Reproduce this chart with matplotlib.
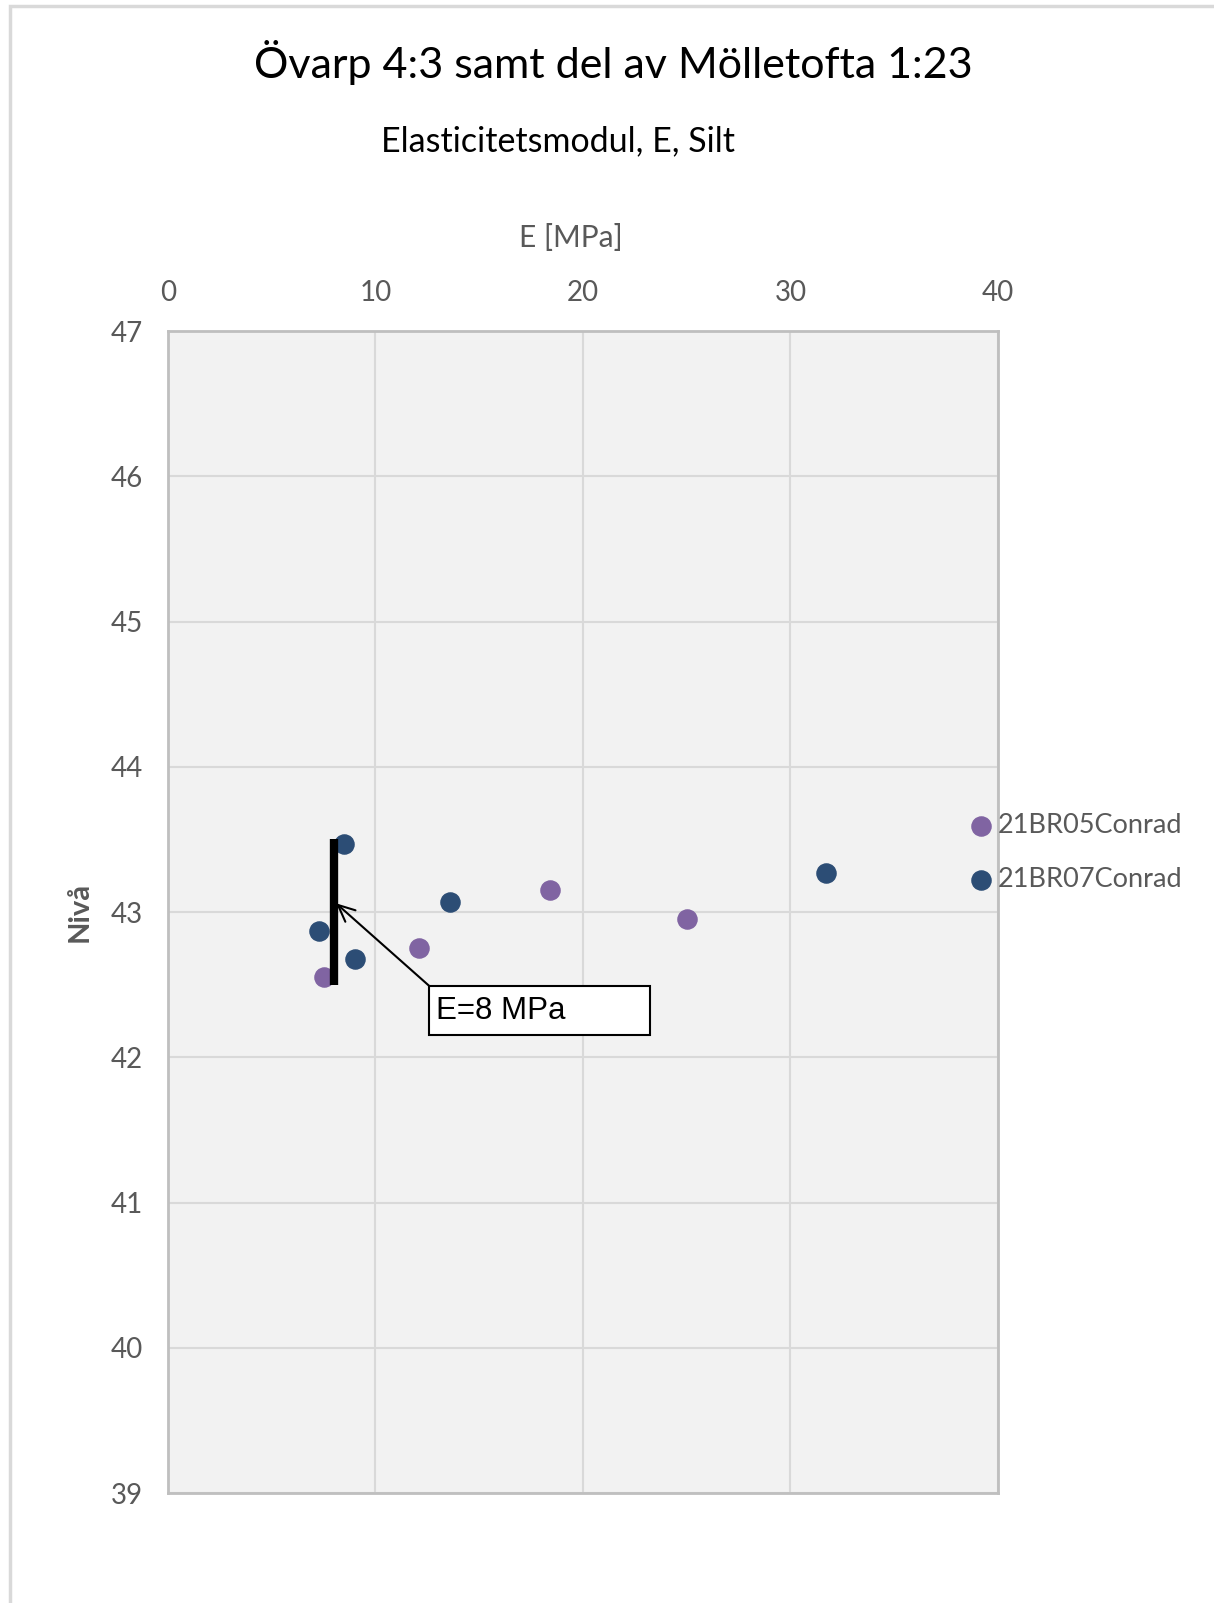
import matplotlib
matplotlib.use("Agg")
import matplotlib.pyplot as plt
from matplotlib.patches import Rectangle

# series: E [MPa] and level
br05_e = [7.5, 12.1, 18.4, 25.0]
br05_niva = [42.55, 42.75, 43.15, 42.95]
br07_e = [8.5, 7.3, 9.0, 13.6, 31.7]
br07_niva = [43.47, 42.87, 42.68, 43.07, 43.27]
series_names = ["21BR05Conrad", "21BR07Conrad"]

# design value line E=8 MPa between levels
e_design = 8
design_top = 43.5
design_bottom = 42.5

x_ticks = [0, 10, 20, 30, 40]
y_ticks = [39, 40, 41, 42, 43, 44, 45, 46, 47]

grey = "#595959"
plt.rcParams["font.family"] = ["Lato", "DejaVu Sans"]

fig = plt.figure(figsize=(12.14, 16.03), dpi=100)
ax = fig.add_axes([0.1384, 0.0686, 0.6836, 0.7249])
ax.set_facecolor("#f2f2f2")

ax.scatter(br05_e, br05_niva, s=190, color="#8064a2", zorder=3, label=series_names[0])
ax.scatter(br07_e, br07_niva, s=190, color="#2c4d75", zorder=3, label=series_names[1])

ax.plot([e_design, e_design], [design_bottom, design_top], color="black", lw=6,
        solid_capstyle="butt", zorder=4)

# label box with arrow to the design line
box_x, box_y, box_w, box_h = 12.6, 42.15, 10.65, 0.34
ax.add_patch(Rectangle((box_x, box_y), box_w, box_h, facecolor="white",
                       edgecolor="black", lw=1.5, zorder=5))
ax.text(box_x + 0.3, box_y + box_h / 2, "E=%d MPa" % e_design, family="Liberation Sans",
        fontsize=22.5, va="center", ha="left", zorder=6)
ax.annotate("", xy=(e_design + 0.1, 43.06), xytext=(box_x, box_y + box_h),
            arrowprops=dict(arrowstyle="->,head_length=1.2,head_width=0.55", color="black",
                            lw=1.5, shrinkA=0, shrinkB=0), zorder=6)

ax.set_xlim(0, 40)
ax.set_ylim(39, 47)
ax.set_xticks(x_ticks)
ax.set_yticks(y_ticks)
ax.xaxis.tick_top()
ax.xaxis.set_label_position("top")
ax.tick_params(length=0, labelsize=20, labelcolor=grey, pad=18)
ax.set_xlabel("E [MPa]", fontsize=21.5, color=grey)
ax.xaxis.set_label_coords(0.485, 1.0 + 84 / 1162)
ax.set_ylabel("Nivå", fontsize=21, color=grey, fontweight="bold", labelpad=13)
ax.grid(True, color="#d9d9d9", lw=1.5)
ax.set_axisbelow(True)
for sp in ax.spines.values():
    sp.set_color("#bfbfbf")
    sp.set_linewidth(2)

leg = ax.legend(loc="center left", bbox_to_anchor=(0.953, 0.551), frameon=False,
                fontsize=19.5, handlelength=0.8, handletextpad=0.25, labelspacing=1.08,
                borderaxespad=0)
for t in leg.get_texts():
    t.set_color(grey)

fig.text(0.505, 0.961, "Övarp 4:3 samt del av Mölletofta 1:23", fontsize=31,
         ha="center", va="center")
fig.text(0.46, 0.912, "Elasticitetsmodul, E, Silt", fontsize=24.5, ha="center", va="center")

# chart area border
fig.add_artist(Rectangle((0.0085, -0.01), 1.1, 1.006, transform=fig.transFigure,
                         fill=False, edgecolor="#d9d9d9", lw=2.5))

fig.savefig("out.png", dpi=100)
